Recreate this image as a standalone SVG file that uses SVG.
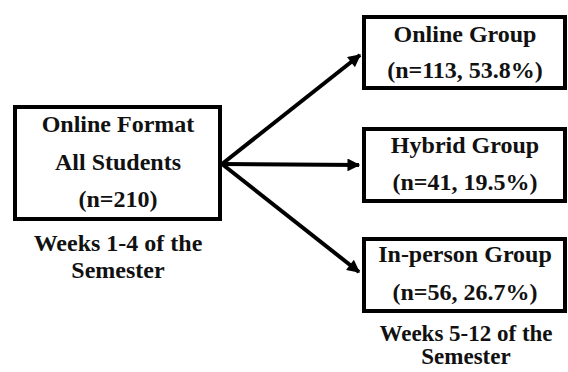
<svg xmlns="http://www.w3.org/2000/svg" width="568" height="372" viewBox="0 0 568 372">
<style>
.box{fill:#fff;stroke:#000;stroke-width:4}
.t{font-family:'Liberation Serif','Times New Roman',serif;font-weight:700;font-size:24px;fill:#111;text-anchor:middle}
.s{font-size:23px}
.c{stroke:#000;stroke-width:4;fill:none;marker-end:url(#ah)}
</style>
<defs>
<marker id="ah" viewBox="0 0 10 10" refX="9" refY="5" markerWidth="4" markerHeight="3.2" orient="auto" markerUnits="strokeWidth">
<path d="M0,0 L10,5 L0,10 z" fill="#000"/>
</marker>
</defs>
<rect width="568" height="372" fill="#fff"/>
<g id="connectors">
<line class="c" x1="222" y1="164" x2="360" y2="55"/>
<line class="c" x1="222" y1="164" x2="359" y2="165"/>
<line class="c" x1="222" y1="164" x2="359" y2="272"/>
</g>
<g id="all-students">
<rect class="box" x="15" y="107" width="205" height="112"/>
<text class="t" x="118" y="132">Online Format</text>
<text class="t" x="118" y="170">All Students</text>
<text class="t" x="118" y="207">(n=210)</text>
</g>
<g id="weeks-1-4">
<text class="t" x="118" y="251">Weeks 1-4 of the</text>
<text class="t" x="118" y="278">Semester</text>
</g>
<g id="online-group">
<rect class="box" x="364" y="17" width="201" height="71"/>
<text class="t" x="465" y="42">Online Group</text>
<text class="t" x="465" y="78">(n=113, 53.8%)</text>
</g>
<g id="hybrid-group">
<rect class="box" x="364" y="129" width="201" height="72"/>
<text class="t" x="465" y="153">Hybrid Group</text>
<text class="t" x="465" y="190">(n=41, 19.5%)</text>
</g>
<g id="inperson-group">
<rect class="box" x="364" y="239" width="201" height="72"/>
<text class="t" x="465" y="262">In-person Group</text>
<text class="t" x="465" y="300">(n=56, 26.7%)</text>
</g>
<g id="weeks-5-12">
<text class="t s" x="466" y="341">Weeks 5-12 of the</text>
<text class="t s" x="466" y="364">Semester</text>
</g>
</svg>
